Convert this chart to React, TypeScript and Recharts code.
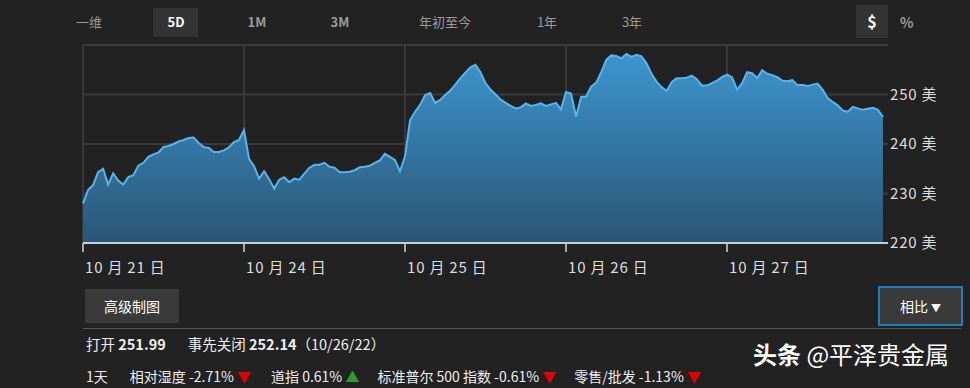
import React from "react";
import { AreaChart, Area, XAxis, YAxis, CartesianGrid } from "recharts";

// 5 trading days, sampled at 32 points per day
const dayLabels = ["10 月 21 日", "10 月 24 日", "10 月 25 日", "10 月 26 日", "10 月 27 日"];
const day1 = [228.0, 230.7, 231.7, 234.3, 235.0, 231.8, 234.1, 232.6, 231.8, 233.3, 233.7, 235.6, 236.2, 237.4, 237.9, 238.3, 239.4, 239.6, 240.0, 240.5, 240.8, 241.2, 241.3, 240.2, 239.4, 239.2, 238.4, 238.4, 238.7, 239.3, 240.4, 240.8];
const day2 = [242.8, 237.0, 235.5, 233.0, 234.5, 232.9, 231.0, 232.8, 233.3, 232.3, 233.0, 232.8, 234.0, 235.2, 235.8, 235.8, 236.2, 235.4, 235.2, 234.3, 234.3, 234.4, 234.7, 235.3, 235.4, 235.6, 236.2, 236.7, 238.0, 237.4, 236.8, 234.5];
const day3 = [237.5, 244.8, 246.5, 247.9, 249.9, 250.3, 248.3, 248.9, 249.9, 250.8, 252.0, 253.3, 254.4, 255.5, 256.0, 254.5, 252.3, 251.0, 250.0, 249.0, 248.3, 247.7, 247.2, 247.4, 248.2, 247.7, 247.9, 248.2, 247.7, 248.0, 248.3, 247.0];
const day4 = [250.5, 250.2, 245.5, 249.5, 249.6, 251.6, 252.4, 254.5, 257.0, 257.9, 257.8, 257.3, 258.2, 257.6, 258.0, 257.7, 256.3, 254.2, 252.6, 251.5, 250.7, 252.5, 253.3, 253.3, 253.4, 253.8, 253.1, 251.8, 251.8, 252.3, 252.8, 253.5];
const day5 = [254.0, 253.5, 251.0, 252.3, 254.5, 254.3, 253.3, 254.9, 254.2, 253.9, 253.5, 252.8, 252.7, 252.9, 251.9, 251.9, 251.7, 252.0, 252.2, 251.0, 249.3, 248.5, 247.8, 246.8, 246.5, 247.5, 247.2, 246.9, 247.1, 247.3, 246.9, 245.5];
const days = [day1, day2, day3, day4, day5];
const yTicks = [220, 230, 240, 250, 260];
const rangeButtons = ["一维", "5D", "1M", "3M", "年初至今", "1年", "3年"];

const data = days.flatMap((prices, d) =>
  prices.map((price, i) => ({ t: d + i / 32, price }))
);

const FONT = '"Noto Sans CJK SC", "Noto Sans", sans-serif';

function DayTick(props: any) {
  const { x, y, payload } = props;
  return (
    <g>
      <line x1={x} y1={y - 8} x2={x} y2={y + 1} stroke="#d0d6dc" strokeWidth={1.5} />
      <text x={x + 2} y={y + 22} fill="#dddddd" fontSize={15} letterSpacing={0.8} fontFamily={FONT} textAnchor="start">
        {dayLabels[payload.value]}
      </text>
    </g>
  );
}

const btnX = [89, 176, 257, 340, 445, 547, 632];

export default function App() {
  return (
    <div
      style={{
        position: "fixed",
        left: 0,
        top: 0,
        width: 970,
        height: 388,
        background: "#222222",
        fontFamily: FONT,
        overflow: "hidden",
      }}
    >
      {/* top range buttons */}
      <div style={{ position: "absolute", left: 153, top: 8, width: 45, height: 29, background: "#333333" }} />
      {rangeButtons.map((b, i) => (
        <div
          key={b}
          style={{
            position: "absolute",
            left: btnX[i] - 40,
            top: 12,
            width: 80,
            textAlign: "center",
            fontSize: 13,
            fontWeight: b === "5D" || b.includes("M") ? 700 : 400,
            color: b === "5D" ? "#ffffff" : "#9a9a9a",
          }}
        >
          {b}
        </div>
      ))}
      <div
        style={{
          position: "absolute",
          left: 856,
          top: 5,
          width: 32,
          height: 33,
          background: "#333333",
          color: "#fff",
          fontWeight: 700,
          fontSize: 16,
          textAlign: "center",
          lineHeight: "33px",
        }}
      >
        $
      </div>
      <div style={{ position: "absolute", left: 900, top: 12, fontSize: 14, fontWeight: 700, color: "#9a9a9a" }}>%</div>

      <div style={{ position: "absolute", left: 0, top: 0 }}>
        <AreaChart width={970} height={290} data={data} margin={{ top: 45, right: 22, left: 83, bottom: 0 }}>
          <defs>
            <linearGradient id="fillBlue" x1="0" y1="0" x2="0" y2="1">
              <stop offset="0%" stopColor="#3c95cf" />
              <stop offset="100%" stopColor="#2a5675" />
            </linearGradient>
          </defs>
          <CartesianGrid stroke="#3a3a3a" strokeWidth={2} verticalValues={[0, 1, 2, 3, 4]} />
          <XAxis
            dataKey="t"
            type="number"
            domain={[0, 5]}
            ticks={[0, 1, 2, 3, 4]}
            axisLine={{ stroke: "#c8d0d6", strokeWidth: 2 }}
            tickLine={false}
            tick={<DayTick />}
            height={47}
            interval={0}
          />
          <YAxis
            orientation="right"
            type="number"
            domain={[220, 260]}
            ticks={yTicks}
            axisLine={false}
            tickLine={false}
            width={60}
            tickMargin={-4}
            tick={{ fill: "#dddddd", fontSize: 15, letterSpacing: 0.8, fontFamily: FONT, textAnchor: "start" }}
            tickFormatter={(v: number) => (v === 260 ? "" : `${v} 美`)}
          />
          <Area
            type="linear"
            dataKey="price"
            stroke="#5ab4ea"
            strokeWidth={2}
            fill="url(#fillBlue)"
            fillOpacity={1}
            baseValue={220}
            isAnimationActive={false}
            dot={false}
            activeDot={false}
          />
        </AreaChart>
      </div>

      {/* buttons under chart */}
      <div
        style={{
          position: "absolute",
          left: 85,
          top: 289,
          width: 94,
          height: 34,
          background: "#3a3a3a",
          color: "#fff",
          fontSize: 14,
          textAlign: "center",
          lineHeight: "34px",
        }}
      >
        高级制图
      </div>
      <div
        style={{
          position: "absolute",
          left: 878,
          top: 286,
          width: 81,
          height: 36,
          background: "#3a3a3a",
          border: "2px solid #1b7fc0",
          color: "#fff",
          fontSize: 14,
          textAlign: "center",
          lineHeight: "36px",
        }}
      >
        相比 <span style={{ fontSize: 10 }}>▼</span>
      </div>
      <div style={{ position: "absolute", left: 83, top: 328, width: 878, height: 1, background: "#555555" }} />

      <div style={{ position: "absolute", left: 86, top: 333, fontSize: 14.5, color: "#eeeeee", whiteSpace: "nowrap" }}>
        打开 <b>251.99</b>
        <span style={{ marginLeft: 22 }}>事先关闭 </span>
        <b>252.14</b>（10/26/22）
      </div>
      <div style={{ position: "absolute", left: 86, top: 366, fontSize: 14, color: "#eeeeee", whiteSpace: "nowrap" }}>
        1天
        <span style={{ marginLeft: 22 }}>相对湿度 -2.71% </span>
        <span style={{ color: "#e00000" }}>▼</span>
        <span style={{ marginLeft: 20 }}>道指 0.61% </span>
        <span style={{ color: "#2a9d2a" }}>▲</span>
        <span style={{ marginLeft: 18 }}>标准普尔 500 指数 -0.61% </span>
        <span style={{ color: "#e00000" }}>▼</span>
        <span style={{ marginLeft: 18 }}>零售/批发 -1.13% </span>
        <span style={{ color: "#e00000" }}>▼</span>
      </div>
      <div style={{ position: "absolute", left: 753, top: 336, fontSize: 24, color: "#ffffff", whiteSpace: "nowrap" }}>
        <b>头条</b> @平泽贵金属
      </div>
    </div>
  );
}
